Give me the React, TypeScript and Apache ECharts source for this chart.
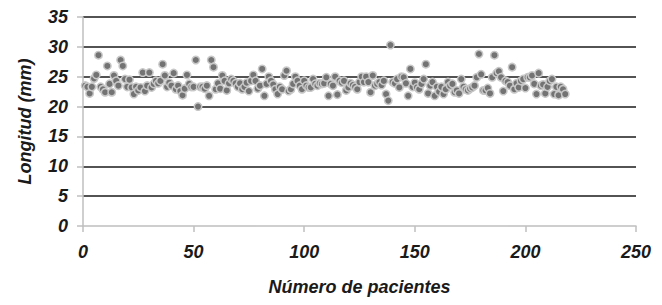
import React, { useEffect, useRef } from "react";
import * as echarts from "echarts";

const yTicks = [0, 5, 10, 15, 20, 25, 30, 35];
const xTicks = [0, 50, 100, 150, 200, 250];
const longitudes = [
  23.5, 23.3, 22.2, 23.3, 24.7, 25.3, 28.6, 23.3, 22.9, 22.4,
  26.8, 23.8, 22.4, 25.2, 24.3, 23.5, 27.8, 26.8, 24.6, 23.3,
  24.5, 23.2, 22.1, 23.3, 22.7, 23.2, 25.7, 22.6, 23.5, 25.7,
  23.2, 23.8, 24.3, 23.9, 24.3, 27.1, 25.2, 23.3, 24.0, 23.5,
  25.6, 22.9, 23.5, 22.6, 21.9, 23.0, 25.3, 23.8, 23.3, 23.3,
  27.8, 20.0, 23.3, 23.3, 23.0, 23.5, 21.8, 27.8, 26.6, 22.9,
  23.9, 23.0, 25.2, 24.3, 22.7, 23.9, 24.6, 24.3, 23.9, 23.3,
  23.9, 22.9, 23.3, 24.0, 22.6, 24.3, 25.3, 24.3, 23.0, 23.5,
  26.3, 21.8, 23.8, 25.0, 24.3, 23.7, 22.9, 22.1, 23.3, 22.9,
  25.2, 26.0, 22.6, 22.9, 23.8, 25.0, 24.3, 23.5, 22.9, 24.3,
  23.5, 23.2, 23.2, 24.6, 23.8, 23.5, 23.9, 23.8, 23.9, 24.9,
  21.8, 23.8, 23.5, 25.0, 22.0, 24.3, 24.0, 24.3, 22.7, 23.2,
  23.9, 23.6, 23.3, 22.9, 24.1, 25.0, 24.1, 25.0, 24.1, 22.4,
  25.2, 23.5, 23.8, 24.1, 23.6, 24.3, 22.1, 21.0, 30.3, 24.1,
  23.9, 24.6, 23.2, 25.0, 24.9, 23.9, 21.8, 26.3, 23.3, 24.0,
  23.2, 22.9, 23.8, 24.6, 27.1, 22.2, 23.5, 24.1, 21.8, 23.3,
  22.5, 23.3, 22.1, 22.9, 24.1, 23.5, 23.8, 22.4, 22.7, 22.2,
  24.6, 23.3, 22.9, 22.7, 23.0, 23.2, 23.5, 24.9, 28.8, 25.4,
  22.7, 22.7, 23.1, 22.2, 24.9, 28.6, 25.6, 25.9, 24.9, 22.6,
  24.3, 24.1, 23.5, 26.6, 22.9, 23.9, 23.2, 24.3, 24.6, 23.1,
  24.9, 24.9, 25.2, 23.8, 22.1, 25.6, 23.5, 23.7, 22.2, 23.3,
  24.3, 24.6, 22.1, 23.3, 21.9, 23.3, 22.9, 22.1,
];
const pacientes = longitudes.map((_, i) => i + 1);

const FONT = "'Liberation Sans', Arial, sans-serif";

export default function App() {
  const ref = useRef<HTMLDivElement>(null);
  useEffect(() => {
    if (!ref.current) return;
    const chart = echarts.init(ref.current, null, { renderer: "svg" });
    const labelStyle = {
      fontFamily: FONT,
      fontSize: 18,
      fontWeight: "bold" as const,
      fontStyle: "italic" as const,
      color: "#1a1a1a",
    };
    chart.setOption({
      animation: false,
      backgroundColor: "#ffffff",
      grid: {
        left: 83,
        right: 26,
        top: 17,
        bottom: 79,
        containLabel: false,
        outerBoundsMode: "none",
      },
      xAxis: {
        type: "value",
        min: xTicks[0],
        max: xTicks[xTicks.length - 1],
        interval: 50,
        name: "Número de pacientes",
        nameLocation: "middle",
        nameGap: 52,
        nameTextStyle: labelStyle,
        axisLine: { show: true, lineStyle: { color: "#bfbfbf", width: 1.5 } },
        axisTick: { show: true, length: 6, lineStyle: { color: "#bfbfbf", width: 1.5 } },
        axisLabel: { ...labelStyle, margin: 17 },
        splitLine: { show: false },
      },
      yAxis: {
        type: "value",
        min: yTicks[0],
        max: yTicks[yTicks.length - 1],
        interval: 5,
        name: "Longitud (mm)",
        nameLocation: "middle",
        nameGap: 49,
        nameRotate: 90,
        nameTextStyle: labelStyle,
        axisLine: { show: true, lineStyle: { color: "#bfbfbf", width: 1.5 } },
        axisTick: { show: true, length: 6, lineStyle: { color: "#bfbfbf", width: 1.5 } },
        axisLabel: { ...labelStyle, margin: 15 },
        splitLine: {
          show: true,
          showMinLine: false,
          lineStyle: { color: "#1a1a1a", width: 1.5 },
        },
      },
      series: [
        {
          type: "scatter",
          data: pacientes.map((p, i) => [p, longitudes[i]]),
          symbol: "circle",
          symbolSize: 7.5,
          itemStyle: {
            color: "#737373",
            borderColor: "#c8c8c8",
            borderWidth: 1.5,
            opacity: 1,
          },
        },
      ],
    });
    return () => chart.dispose();
  }, []);
  return (
    <div
      ref={ref}
      style={{ position: "fixed", left: 0, top: 0, width: 662, height: 305 }}
    />
  );
}
